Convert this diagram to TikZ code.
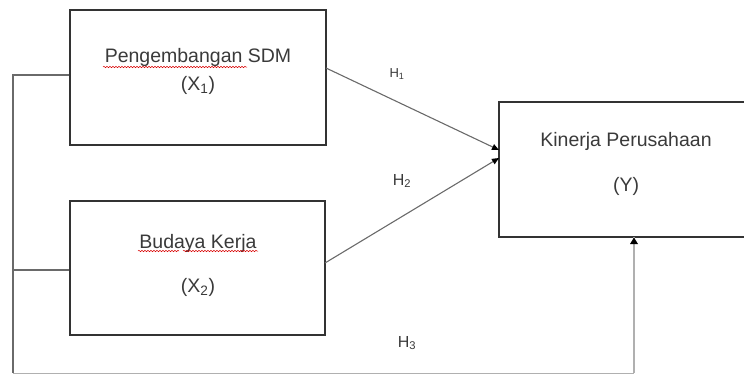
\documentclass[tikz,border=0pt]{standalone}
\usepackage{fontspec}
\setmainfont{Liberation Sans}
\usetikzlibrary{arrows.meta,decorations.pathmorphing}
\definecolor{boxc}{HTML}{333333}
\definecolor{txtc}{HTML}{3A3A3A}
\definecolor{linec}{HTML}{6A6A6A}
\definecolor{lightc}{HTML}{B0B0B0}
\tikzset{
  varbox/.style={draw=boxc, line width=1.5pt, rectangle, inner sep=0pt},
  lbl/.style={text=txtc, font=\fontsize{19.5}{23}\selectfont, inner sep=0pt, anchor=center},
  hlbl/.style={text=txtc, font=\fontsize{16}{19}\selectfont, inner sep=0pt},
  conn/.style={draw=linec, line width=1.1pt},
  arr/.style={conn, -{Triangle[length=7pt,width=6pt,fill=black,color=black]}},
  squig/.style={draw=red!85!black, line width=0.5pt, decorate, decoration={snake, amplitude=0.7pt, segment length=3pt}}
}
\begin{document}
\begin{tikzpicture}[x=1pt,y=-1pt]
\useasboundingbox (0,0) rectangle (744,375);
% boxes
\node[varbox, minimum width=256pt, minimum height=135pt] (x1) at (198,77.5) {};
\node[varbox, minimum width=255pt, minimum height=134pt] (x2) at (197.5,268) {};
\node[varbox, minimum width=254pt, minimum height=135pt] (y) at (626,169.5) {};
% texts
\node[lbl] (t1) at (198,57) {Pengembangan SDM};
\node[lbl] (t1b) at (198,85) {(X\textsubscript{1})};
\node[lbl] (t2) at (198,243) {Budaya Kerja};
\node[lbl] (t2b) at (198,287) {(X\textsubscript{2})};
\node[lbl] (t3) at (626,141) {Kinerja Perusahaan};
\node[lbl] (t3b) at (626,186) {(Y)};
% spell-check squiggles
\coordinate (s1a) at (103,67); \coordinate (s1b) at (247,67);
\coordinate (s2a) at (138,251); \coordinate (s2b) at (179,251);
\coordinate (s3a) at (183,251); \coordinate (s3b) at (258,251);
\draw[squig] (s1a) -- (s1b);
\draw[squig] (s2a) -- (s2b);
\draw[squig] (s3a) -- (s3b);
% hypothesis labels
\node[hlbl, font=\fontsize{13}{15}\selectfont] (h1) at (397,74) {H\textsubscript{1}};
\node[hlbl] (h2) at (402,181) {H\textsubscript{2}};
\node[hlbl] (h3) at (407,343) {H\textsubscript{3}};
% arrows
\coordinate (x1r) at (326,68);
\coordinate (x2r) at (325,263);
\coordinate (ya) at (499,150);
\coordinate (yb) at (499,158);
\draw[arr] (x1r) -- (ya);
\draw[arr] (x2r) -- (yb);
% left bracket and bottom line
\coordinate (l1) at (13,75);
\coordinate (l2) at (13,270);
\coordinate (lb) at (13,373);
\coordinate (rb) at (634,373);
\coordinate (yt) at (634,237);
\draw[conn] (x1.west |- l1) -- (l1) -- (lb);
\draw[conn] (x2.west |- l2) -- (l2);
\draw[draw=lightc, line width=1pt] (lb) -- (rb);
\draw[draw=lightc, line width=2pt] (rb) -- (yt);
\fill[black] (634,237.5) -- (630,244) -- (638,244) -- cycle;
\end{tikzpicture}
\end{document}
